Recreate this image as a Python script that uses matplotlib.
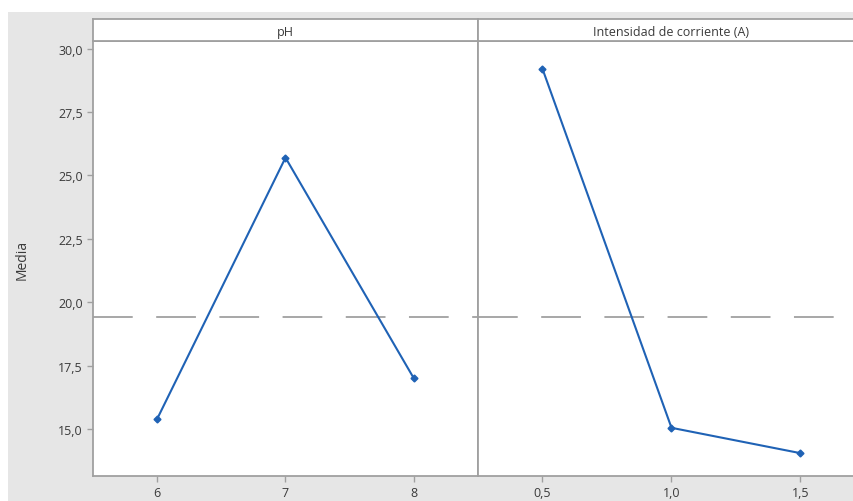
import numpy as np
import matplotlib
matplotlib.use("Agg")
import matplotlib.pyplot as plt
from matplotlib.patches import Rectangle

# Data
ph_levels = [6, 7, 8]
ph_means = [15.4, 25.7, 17.0]
current_levels = [0.5, 1.0, 1.5]
current_means = [29.2, 15.05, 14.05]
grand_mean = 19.4

y_ticks = [15.0, 17.5, 20.0, 22.5, 25.0, 27.5, 30.0]
panel_titles = ["pH", "Intensidad de corriente (A)"]

W, H = 854, 502
fig = plt.figure(figsize=(W / 100, H / 100), dpi=100)
fig.patch.set_facecolor("white")

# grey backdrop, leaving a thin white margin at top and left
fig.patches.append(Rectangle((8 / W, -0.01), 1, 1.01 - 13 / H, transform=fig.transFigure,
                             facecolor="#e6e6e6", edgecolor="none", zorder=-5))

frame_col = "#a0a0a0"
line_col = "#1f62b5"
text_col = "#3a3a3a"
plt.rcParams["font.family"] = ["Open Sans", "DejaVu Sans"]

bottom = 1 - 477 / H
top = 1 - 42 / H
strip_h = 22 / H

panels = [
    (93, 385, ph_levels, ph_means, (5.5, 8.5), ["6", "7", "8"]),
    (478, 387, current_levels, current_means, (0.25, 1.75), ["0,5", "1,0", "1,5"]),
]

for i, (x0, w, xs, ys, xlim, xlabels) in enumerate(panels):
    ax = fig.add_axes([x0 / W, bottom, w / W, top - bottom])
    ax.set_facecolor("white")
    ax.axhline(grand_mean, color=frame_col, lw=1.3, linestyle=(0, (22, 13)), zorder=1)
    ax.plot(xs, ys, color=line_col, lw=1.5, marker="D", ms=3.5, zorder=3)
    ax.set_xlim(*xlim)
    ax.set_ylim(13.15, 30.3)
    ax.set_xticks(xs)
    ax.set_xticklabels(xlabels)
    ax.set_yticks(y_ticks)
    if i == 0:
        ax.set_yticklabels([f"{v:.1f}".replace(".", ",") for v in y_ticks])
        ax.set_ylabel("Media", fontsize=10, color=text_col)
        ax.yaxis.set_label_coords((30 - x0) / w, 0.5)
    else:
        ax.tick_params(axis="y", left=False, labelleft=False)
    for s in ax.spines.values():
        s.set_color(frame_col)
        s.set_linewidth(1.3)
    ax.tick_params(colors=frame_col, labelcolor=text_col, labelsize=9, length=4, width=1)

    # strip with the factor name
    sx = fig.add_axes([x0 / W, top, w / W, strip_h])
    sx.set_facecolor("white")
    sx.set_xticks([])
    sx.set_yticks([])
    for s in sx.spines.values():
        s.set_color(frame_col)
        s.set_linewidth(1.3)
    sx.text(0.5, 0.45, panel_titles[i], ha="center", va="center",
            fontsize=9, color=text_col, transform=sx.transAxes)

fig.savefig("out.png", dpi=100)
